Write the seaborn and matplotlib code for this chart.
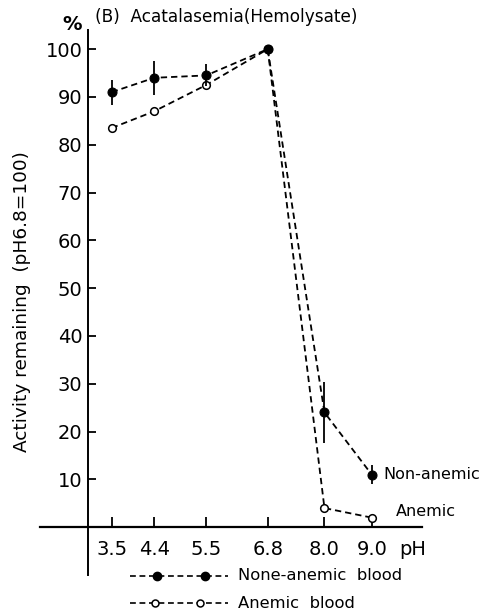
import matplotlib
matplotlib.use("Agg")
import matplotlib.pyplot as plt
from matplotlib.lines import Line2D
import seaborn as sns
import pandas as pd

# ---- data ----
ph = [3.5, 4.4, 5.5, 6.8, 8.0, 9.0]
ph_labels = ["3.5", "4.4", "5.5", "6.8", "8.0", "9.0"]
non_anemic = [91, 94, 94.5, 100, 24, 11]
non_anemic_err = [2.6, 3.5, 2.3, 0, 6.3, 2.0]
anemic = [83.5, 87, 92.5, 100, 4, 2]
y_ticks = [10, 20, 30, 40, 50, 60, 70, 80, 90, 100]

sns.set_style("white")
plt.rcParams["font.family"] = ["DejaVu Sans"]
plt.rcParams.update({"text.color": "black", "axes.labelcolor": "black",
                     "xtick.color": "black", "ytick.color": "black",
                     "axes.edgecolor": "black"})

W, H = 486, 614
fig = plt.figure(figsize=(W / 100, H / 100), dpi=100)
ax = fig.add_axes([40 / W, 1 - 575 / H, 382 / W, 545 / H])

df_n = pd.DataFrame({"ph": ph, "val": non_anemic})
df_a = pd.DataFrame({"ph": ph, "val": anemic})

ls = (0, (3.5, 2.2))
sns.lineplot(data=df_a, x="ph", y="val", ax=ax, color="black", linestyle=ls,
             linewidth=1.3, marker="o", markersize=5.5, markerfacecolor="white",
             markeredgecolor="black", markeredgewidth=1.1, sort=False, zorder=3)
sns.lineplot(data=df_n, x="ph", y="val", ax=ax, color="black", linestyle=ls,
             linewidth=1.3, marker="o", markersize=6.5, markerfacecolor="black",
             markeredgecolor="black", sort=False, zorder=4)
ax.errorbar(ph, non_anemic, yerr=non_anemic_err, fmt="none", ecolor="black",
            elinewidth=1.3, capsize=0, zorder=4)

ax.set_xlim(1.984, 10.063)
ax.set_ylim(-10.0, 104.0)

for s in ["top", "right"]:
    ax.spines[s].set_visible(False)
ax.spines["left"].set_position(("data", 3.0))
ax.spines["bottom"].set_position(("data", 0))
ax.spines["left"].set_linewidth(1.4)
ax.spines["bottom"].set_linewidth(1.6)

ax.set_xticks(ph)
ax.set_xticklabels(ph_labels)
ax.set_yticks(y_ticks)
ax.set_yticklabels([str(v) for v in y_ticks])
ax.tick_params(axis="x", direction="in", length=7, width=1.3, pad=9,
               labelsize=14, colors="black", bottom=True)
ax.tick_params(axis="y", direction="in", length=6, width=1.3, pad=4,
               labelsize=14, colors="black", left=True)
ax.set_xlabel("")
ax.set_ylabel("")

ax.text(9.58, -4.6, "pH", fontsize=14, va="center", ha="left", color="black")
ax.text(9.24, 11, "Non-anemic", fontsize=11.5, va="center", ha="left", color="black")
ax.text(9.5, 3.2, "Anemic", fontsize=11.5, va="center", ha="left", color="black")

fig.text(72 / W, 1 - 25 / H, "%", fontsize=14, fontweight="bold", ha="center",
         va="center", color="black")
fig.text(95 / W, 1 - 17 / H, "(B)  Acatalasemia(Hemolysate)", fontsize=12.2,
         ha="left", va="center", color="black")
fig.text(22 / W, 1 - 302 / H, "Activity remaining  (pH6.8=100)", fontsize=13.3,
         rotation=90, ha="center", va="center", color="black")

# legend drawn beneath the axes
lg1 = Line2D([130 / W, 228 / W], [1 - 576 / H, 1 - 576 / H], transform=fig.transFigure,
             color="black", linestyle=ls, linewidth=1.2)
fig.add_artist(lg1)
fig.add_artist(Line2D([157 / W, 205 / W], [1 - 576 / H] * 2, transform=fig.transFigure,
                      linestyle="none", marker="o", markersize=6, color="black"))
lg2 = Line2D([130 / W, 228 / W], [1 - 603 / H, 1 - 603 / H], transform=fig.transFigure,
             color="black", linestyle=ls, linewidth=1.2)
fig.add_artist(lg2)
fig.add_artist(Line2D([155 / W, 200 / W], [1 - 603 / H] * 2, transform=fig.transFigure,
                      linestyle="none", marker="o", markersize=5, markerfacecolor="white",
                      markeredgecolor="black", markeredgewidth=1.1))
fig.text(238 / W, 1 - 576 / H, "None-anemic  blood", fontsize=11.8, va="center",
         ha="left", color="black")
fig.text(238 / W, 1 - 603 / H, "Anemic  blood", fontsize=11.8, va="center",
         ha="left", color="black")

fig.savefig("out.png", dpi=100)
